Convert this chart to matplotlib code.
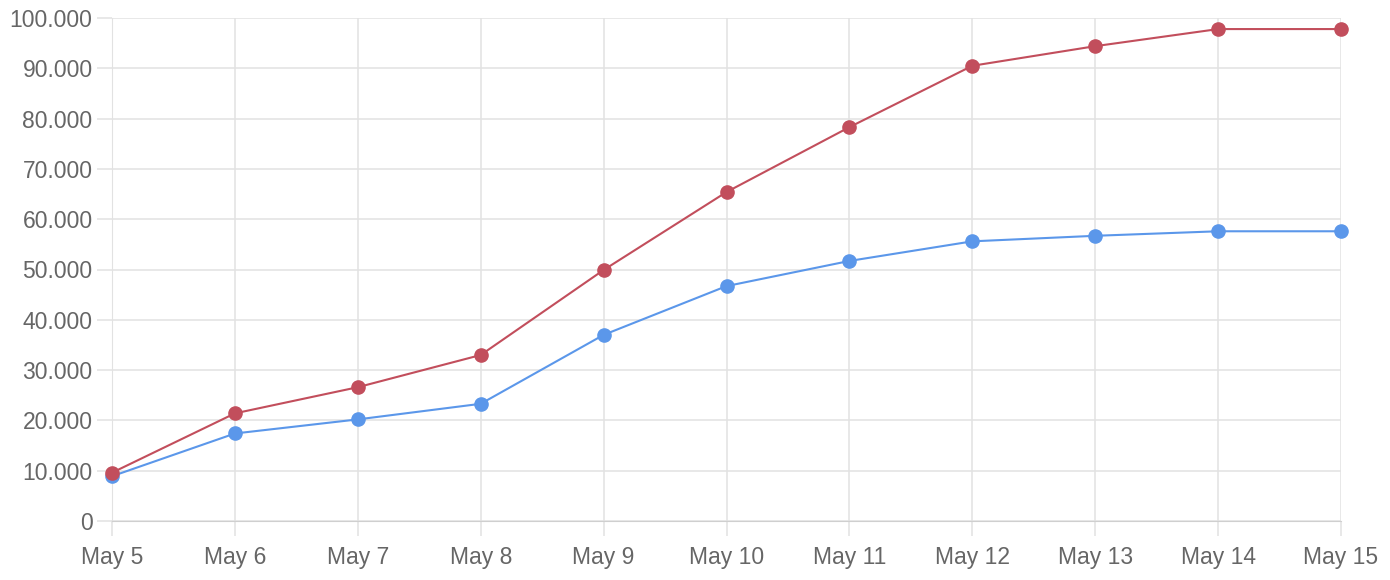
import matplotlib.pyplot as plt
from matplotlib.ticker import FuncFormatter

days = ['May 5', 'May 6', 'May 7', 'May 8', 'May 9', 'May 10',
        'May 11', 'May 12', 'May 13', 'May 14', 'May 15']
red_vals = [9600, 21400, 26600, 33000, 49900, 65400, 78300, 90500, 94400, 97800, 97800]
blue_vals = [8900, 17400, 20200, 23300, 37000, 46700, 51700, 55600, 56700, 57600, 57600]

plt.rcParams['font.family'] = ['Liberation Sans', 'DejaVu Sans']

fig = plt.figure(figsize=(13.9, 5.8), dpi=100)
ax = fig.add_axes([112/1390, 59/580, (1341-112)/1390, (521-18)/580])

x = list(range(len(days)))
grid_c = '#e2e2e2'
ax.plot(x, blue_vals, color='#5b97ea', lw=1.5, marker='o', ms=9.5, zorder=3, clip_on=False)
ax.plot(x, red_vals, color='#c24e5c', lw=1.5, marker='o', ms=9.5, zorder=4, clip_on=False)

ax.set_xlim(0, 10)
ax.set_ylim(0, 100000)
ax.set_xticks(x)
ax.set_xticklabels(days)
ax.set_yticks(range(0, 100001, 10000))
ax.yaxis.set_major_formatter(FuncFormatter(lambda v, p: f'{int(v):,}'.replace(',', '.')))

ax.grid(True, color=grid_c, lw=1.1)
for s in ax.spines.values():
    s.set_visible(False)
ax.spines['bottom'].set_visible(True)
ax.spines['bottom'].set_color('#cfcfcf')
ax.spines['left'].set_visible(True)
ax.spines['left'].set_color(grid_c)
ax.tick_params(axis='both', colors=grid_c, labelcolor='#666666', labelsize=16.5,
               length=11, width=1.1)
ax.tick_params(axis='y', pad=3)
ax.tick_params(axis='x', pad=7)

fig.savefig('out.png', dpi=100)
